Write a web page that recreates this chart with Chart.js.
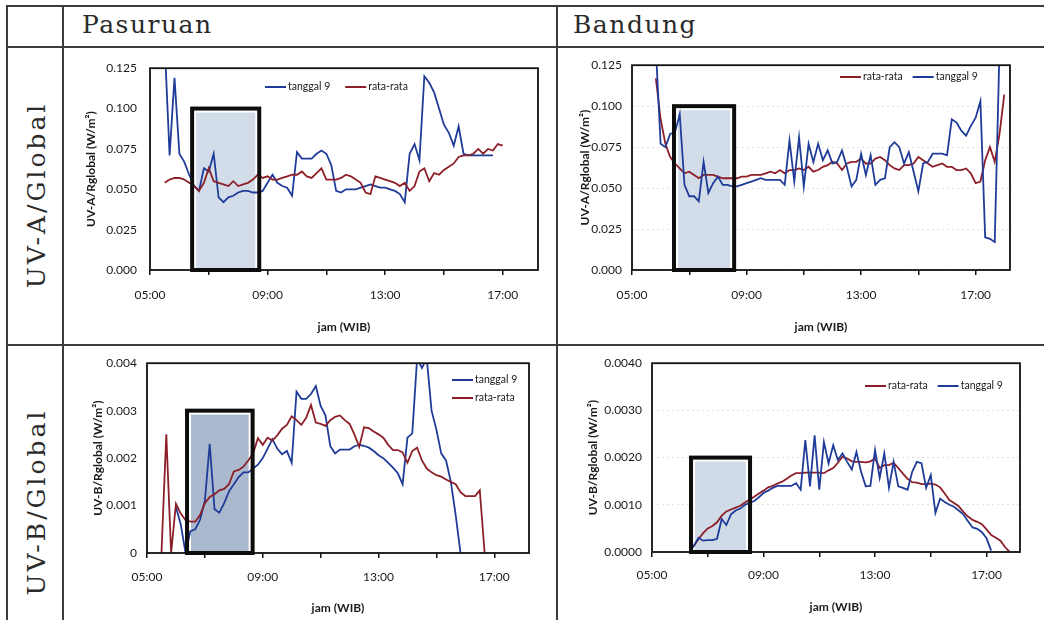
<!DOCTYPE html>
<html>
<head>
<meta charset="utf-8">
<script src="https://cdn.jsdelivr.net/npm/chart.js@4.4.1/dist/chart.umd.min.js"></script>
<style>
  body { margin: 0; background: #fff; }
  #page { position: relative; width: 1044px; height: 620px; overflow: hidden; font-family: "DejaVu Serif", serif; color: #2a2a2a; }
  .rule { position: absolute; background: #3c3c3c; }
  .head { position: absolute; top: 10px; font-size: 25px; letter-spacing: 1.5px; line-height: 30px; }
  .side { position: absolute; left: 36px; font-size: 25px; letter-spacing: 3px; white-space: nowrap; transform: translate(-50%, -50%) rotate(-90deg); }
  canvas { position: absolute; }
</style>
</head>
<body>
<div id="page">
  <div class="rule" style="left:6px;top:5px;width:1038px;height:2px"></div>
  <div class="rule" style="left:6px;top:46px;width:1038px;height:2px"></div>
  <div class="rule" style="left:6px;top:344px;width:1038px;height:2px"></div>
  <div class="rule" style="left:6px;top:5px;width:2px;height:615px"></div>
  <div class="rule" style="left:62px;top:5px;width:2px;height:615px"></div>
  <div class="rule" style="left:556px;top:5px;width:2px;height:615px"></div>
  <div class="head" style="left:82px">Pasuruan</div>
  <div class="head" style="left:573px">Bandung</div>
  <div class="side" style="top:195px">UV-A/Global</div>
  <div class="side" style="top:502px">UV-B/Global</div>
  <canvas id="pasUva" width="492" height="296" style="left:64px;top:48px"></canvas>
  <canvas id="bdgUva" width="484" height="296" style="left:558px;top:48px"></canvas>
  <canvas id="pasUvb" width="492" height="274" style="left:64px;top:346px"></canvas>
  <canvas id="bdgUvb" width="484" height="274" style="left:558px;top:346px"></canvas>
</div>
<script>
const STEP = 10 / 60; // one reading every 10 minutes

const timeTicks = ["05:00", "07:00", "09:00", "11:00", "13:00", "15:00", "17:00"];
const timeLabels = ["05:00", "09:00", "13:00", "17:00"];
const uvaTicks = [0, 0.025, 0.05, 0.075, 0.1, 0.125];
const uvbTicks = [0, 0.001, 0.002, 0.003, 0.004];

// Pasuruan, UV-A / global
const pasUvaT9Start = "05:30";
const pasUvaT9 = [
  0.140, 0.071, 0.119, 0.072, 0.067, 0.059, 0.052, 0.049, 0.063, 0.061,
  0.072, 0.045, 0.042, 0.045, 0.046, 0.048, 0.049, 0.049, 0.048, 0.048,
  0.049, 0.054, 0.059, 0.054, 0.052, 0.051, 0.046, 0.073, 0.069, 0.069,
  0.069, 0.072, 0.074, 0.072, 0.065, 0.049, 0.048, 0.050, 0.050, 0.050,
  0.051, 0.052, 0.053, 0.052, 0.051, 0.051, 0.050, 0.049, 0.047, 0.042,
  0.072, 0.078, 0.068, 0.120, 0.116, 0.110, 0.100, 0.090, 0.085, 0.077,
  0.089, 0.072, 0.071, 0.071, 0.071, 0.071, 0.071, 0.071,
];
const pasUvaAvgStart = "05:30";
const pasUvaAvg = [
  0.054, 0.056, 0.057, 0.057, 0.056, 0.054, 0.052, 0.049, 0.054, 0.063,
  0.055, 0.054, 0.053, 0.052, 0.055, 0.052, 0.053, 0.054, 0.056, 0.059,
  0.057, 0.058, 0.056, 0.056, 0.057, 0.058, 0.059, 0.059, 0.061, 0.058,
  0.057, 0.060, 0.063, 0.056, 0.056, 0.056, 0.057, 0.059, 0.058, 0.056,
  0.054, 0.048, 0.047, 0.058, 0.057, 0.056, 0.055, 0.054, 0.052, 0.054,
  0.049, 0.052, 0.061, 0.063, 0.055, 0.060, 0.059, 0.062, 0.064, 0.066,
  0.070, 0.071, 0.071, 0.072, 0.075, 0.072, 0.075, 0.074, 0.078, 0.077,
];
const pasUvaBox = ["06:26", "08:43", 0.1];

// Bandung, UV-A / global
const bdgUvaAvgStart = "05:50";
const bdgUvaAvg = [
  0.117, 0.092, 0.077, 0.069, 0.065, 0.062, 0.059, 0.060, 0.058, 0.056,
  0.058, 0.058, 0.058, 0.057, 0.056, 0.056, 0.056, 0.056, 0.057, 0.057,
  0.058, 0.058, 0.058, 0.059, 0.060, 0.059, 0.061, 0.059, 0.061, 0.061,
  0.062, 0.061, 0.063, 0.060, 0.061, 0.063, 0.064, 0.066, 0.065, 0.061,
  0.065, 0.066, 0.066, 0.068, 0.065, 0.065, 0.068, 0.069, 0.067, 0.064,
  0.062, 0.061, 0.064, 0.064, 0.065, 0.069, 0.067, 0.065, 0.063, 0.064,
  0.065, 0.063, 0.063, 0.061, 0.061, 0.062, 0.059, 0.053, 0.054, 0.067,
  0.075, 0.066, 0.083, 0.107,
];
const bdgUvaT9Start = "05:50";
const bdgUvaT9 = [
  0.135, 0.077, 0.075, 0.083, 0.084, 0.095, 0.052, 0.045, 0.045, 0.042,
  0.066, 0.047, 0.053, 0.057, 0.052, 0.052, 0.051, 0.051, 0.052, 0.053,
  0.054, 0.055, 0.056, 0.055, 0.055, 0.055, 0.055, 0.052, 0.079, 0.054,
  0.081, 0.051, 0.077, 0.066, 0.077, 0.067, 0.073, 0.065, 0.066, 0.073,
  0.063, 0.051, 0.055, 0.071, 0.058, 0.070, 0.052, 0.055, 0.056, 0.075,
  0.078, 0.075, 0.065, 0.072, 0.060, 0.048, 0.065, 0.066, 0.071, 0.071,
  0.071, 0.070, 0.092, 0.090, 0.085, 0.082, 0.088, 0.093, 0.103, 0.020,
  0.019, 0.017, 0.135,
];
const bdgUvaBox = ["06:28", "08:34", 0.1];

// Pasuruan, UV-B / global
const pasUvbT9Start = "06:00";
const pasUvbT9 = [
  0.00097, 0.0006, 0, 0.00046, 0.0005, 0.0007, 0.0011, 0.0023, 0.00092, 0.00085,
  0.00105, 0.0013, 0.00145, 0.0016, 0.0017, 0.0017, 0.00178, 0.00186, 0.002, 0.0022,
  0.0024, 0.0022, 0.00208, 0.00215, 0.0019, 0.0034, 0.00325, 0.00325, 0.00335, 0.00352,
  0.0031, 0.0029, 0.00225, 0.0021, 0.00218, 0.00218, 0.00218, 0.00225, 0.00228, 0.00226,
  0.00222, 0.00215, 0.00206, 0.002, 0.0019, 0.0018, 0.00168, 0.00145, 0.00243, 0.00252,
  0.0041, 0.0039, 0.0041, 0.003, 0.0026, 0.0021, 0.00195, 0.0015, 0.0008, 0,
];
const pasUvbAvgStart = "05:30";
const pasUvbAvg = [
  0, 0.0025, 0, 0.00104, 0.00083, 0.00069, 0.00066, 0.00066, 0.0008, 0.00105,
  0.00118, 0.00124, 0.00132, 0.00135, 0.00145, 0.00172, 0.00175, 0.00182, 0.00195, 0.0021,
  0.00242, 0.00228, 0.00243, 0.00237, 0.00248, 0.00262, 0.0027, 0.00288, 0.0028, 0.0027,
  0.00285, 0.00312, 0.00275, 0.00272, 0.00268, 0.0028, 0.00287, 0.0029, 0.0028, 0.00272,
  0.0025, 0.00224, 0.00265, 0.00263, 0.00256, 0.0025, 0.00243, 0.00228, 0.00217, 0.00217,
  0.00212, 0.0019, 0.00215, 0.00222, 0.00195, 0.00178, 0.0017, 0.00164, 0.00161, 0.00155,
  0.0015, 0.00145, 0.00128, 0.0012, 0.0012, 0.0012, 0.00132, 0,
];
const pasUvbBox = ["06:23", "08:39", 0.003];

// Bandung, UV-B / global
const bdgUvbAvgStart = "06:20";
const bdgUvbAvg = [
  0, 0.00013, 0.00027, 0.0004, 0.0005, 0.00055, 0.00063, 0.00077, 0.00086, 0.0009,
  0.00094, 0.00098, 0.00105, 0.00111, 0.00117, 0.00124, 0.0013, 0.00137, 0.0014, 0.00145,
  0.00149, 0.00155, 0.00162, 0.00167, 0.00167, 0.00168, 0.00168, 0.00168, 0.00168, 0.00167,
  0.00173, 0.00178, 0.00189, 0.00202, 0.00198, 0.00192, 0.00191, 0.00191, 0.0019, 0.00192,
  0.00198, 0.00178, 0.00184, 0.00184, 0.00189, 0.00178, 0.00166, 0.00155, 0.00148, 0.00147,
  0.00144, 0.00144, 0.00145, 0.00143, 0.00137, 0.00124, 0.0011, 0.00104, 0.00097, 0.00085,
  0.00075, 0.00068, 0.00064, 0.00059, 0.00048, 0.00036, 0.0003, 0.00024, 0.0001, 0,
];
const bdgUvbT9Start = "06:20";
const bdgUvbT9 = [
  0, 0.00013, 0.0003, 0.00024, 0.00025, 0.00025, 0.00028, 0.0007, 0.00057, 0.0008,
  0.00088, 0.00092, 0.001, 0.00104, 0.00108, 0.00116, 0.00125, 0.0013, 0.00136, 0.0014,
  0.0014, 0.0014, 0.0014, 0.00146, 0.00132, 0.00237, 0.00139, 0.00247, 0.00132, 0.00233,
  0.00188, 0.00226, 0.00195, 0.00209, 0.00191, 0.00175, 0.00212, 0.0017, 0.00139, 0.0014,
  0.00216, 0.00157, 0.00209, 0.00136, 0.00191, 0.00139, 0.00136, 0.00132, 0.0017, 0.00191,
  0.00188, 0.00136, 0.00163, 0.00083, 0.00113, 0.00106, 0.001, 0.00096, 0.00088, 0.0008,
  0.00065, 0.00052, 0.00049, 0.00042, 0.00029, 0.00003,
];
const bdgUvbBox = ["06:24", "08:31", 0.002];

const BLUE = "#1f3c99";
const RED = "#8c1f28";
const INK = "#1a1a1a";

Chart.defaults.font.family = "Lato, 'Liberation Sans', sans-serif";
Chart.defaults.color = INK;

const toHours = (t) => {
  const [h, m] = t.split(":").map(Number);
  return h + m / 60;
};
const toPoints = (start, values) =>
  values.map((v, i) => ({ x: toHours(start) + i * STEP, y: v }));

// shaded period box + plot frame
const shadeBox = {
  id: "shadeBox",
  beforeDatasetsDraw(chart, args, opts) {
    const { ctx, scales } = chart;
    const l = scales.x.getPixelForValue(toHours(opts.range[0]));
    const r = scales.x.getPixelForValue(toHours(opts.range[1]));
    const t = scales.y.getPixelForValue(opts.range[2]);
    const b = scales.y.getPixelForValue(0);
    ctx.save();
    ctx.fillStyle = "#fff";
    ctx.fillRect(l, t, r - l, b - t);
    ctx.fillStyle = opts.fill;
    ctx.fillRect(l + 4, t + 4, r - l - 8, b - t - 6);
    ctx.restore();
  },
  afterDatasetsDraw(chart, args, opts) {
    const { ctx, scales, chartArea: a } = chart;
    const l = scales.x.getPixelForValue(toHours(opts.range[0]));
    const r = scales.x.getPixelForValue(toHours(opts.range[1]));
    const t = scales.y.getPixelForValue(opts.range[2]);
    const b = scales.y.getPixelForValue(0);
    ctx.save();
    ctx.strokeStyle = "#111";
    ctx.lineWidth = 1.8;
    ctx.strokeRect(a.left, a.top, a.right - a.left, a.bottom - a.top);
    ctx.strokeStyle = "#0d0d0d";
    ctx.lineWidth = 4;
    ctx.strokeRect(l, t, r - l, b - t);
    ctx.restore();
  },
};

// Excel-like legend sitting inside the plot
const seriesKey = {
  id: "seriesKey",
  afterDraw(chart, args, opts) {
    const { ctx } = chart;
    let { x, y } = opts;
    ctx.save();
    ctx.font = "10.5px Lato, sans-serif";
    ctx.textBaseline = "middle";
    chart.data.datasets.forEach((ds) => {
      ctx.strokeStyle = ds.borderColor;
      ctx.lineWidth = 2;
      ctx.beginPath();
      ctx.moveTo(x, y);
      ctx.lineTo(x + 21, y);
      ctx.stroke();
      ctx.fillStyle = INK;
      ctx.fillText(ds.label, x + 23, y);
      if (opts.vertical) y += opts.gap;
      else x += 23 + ctx.measureText(ds.label).width + opts.gap;
    });
    ctx.restore();
  },
};

const makeChart = (id, series, f) =>
  new Chart(document.getElementById(id), {
    type: "line",
    data: {
      datasets: series.map((s, i) => ({
        label: s.label,
        data: s.points,
        borderColor: s.color,
        borderWidth: 1.8,
        pointRadius: 0,
        tension: 0,
        order: series.length - i,
      })),
    },
    plugins: [shadeBox, seriesKey],
    options: {
      responsive: false,
      animation: false,
      devicePixelRatio: 1,
      layout: { padding: { left: 0, right: f.right, top: f.top, bottom: 0 } },
      plugins: {
        legend: { display: false },
        tooltip: { enabled: false },
        shadeBox: { range: f.box, fill: f.fill },
        seriesKey: f.key,
      },
      scales: {
        x: {
          type: "linear",
          min: 5,
          max: 18.2,
          afterBuildTicks: (s) => {
            s.ticks = timeTicks.map((t) => ({ value: toHours(t) }));
          },
          afterFit: (s) => {
            s.height = f.xHeight;
          },
          ticks: {
            autoSkip: false,
            maxRotation: 0,
            padding: f.xPad,
            font: { size: 12 },
            callback: (v) => {
              const label = timeTicks.find((t) => toHours(t) === v);
              return timeLabels.includes(label) ? label : "";
            },
          },
          grid: { drawOnChartArea: false, drawTicks: true, tickLength: 5, color: "#111", lineWidth: 1.5 },
          border: { display: false },
          title: {
            display: true,
            text: "jam (WIB)",
            font: { size: 12, weight: "bold" },
            padding: { top: 0, bottom: f.xTitlePad },
          },
        },
        y: {
          min: 0,
          max: f.yTicks[f.yTicks.length - 1],
          afterBuildTicks: (s) => {
            s.ticks = f.yTicks.map((v) => ({ value: v }));
          },
          afterFit: (s) => {
            s.width = f.yWidth;
          },
          ticks: { padding: f.yPad, font: { size: 12 }, callback: f.yFormat },
          grid: {
            display: f.grid,
            drawTicks: false,
            color: "#e3e3e3",
            lineWidth: 1,
          },
          border: { display: false, dash: [2, 3] },
          title: {
            display: true,
            text: f.yTitle,
            font: { size: 12, weight: "bold" },
            padding: { top: f.yTitlePad, bottom: 0 },
          },
        },
      },
    },
  });

const t9 = (start, values) => ({ label: "tanggal 9", color: BLUE, points: toPoints(start, values) });
const avg = (start, values) => ({ label: "rata-rata", color: RED, points: toPoints(start, values) });

makeChart("pasUva", [t9(pasUvaT9Start, pasUvaT9), avg(pasUvaAvgStart, pasUvaAvg)], {
  right: 18, top: 17, yWidth: 86, xHeight: 74, yPad: 13, yTitlePad: 20, xPad: 13, xTitlePad: 10,
  grid: false, yTicks: uvaTicks, yFormat: (v) => v.toFixed(3), yTitle: "UV-A/Rglobal (W/m²)",
  box: pasUvaBox, fill: "#d3dde9", key: { x: 201, y: 39, gap: 15 },
});

makeChart("bdgUva", [avg(bdgUvaAvgStart, bdgUvaAvg), t9(bdgUvaT9Start, bdgUvaT9)], {
  right: 32, top: 17, yWidth: 74, xHeight: 74, yPad: 10, yTitlePad: 20, xPad: 13, xTitlePad: 10,
  grid: true, yTicks: uvaTicks, yFormat: (v) => v.toFixed(3), yTitle: "UV-A/Rglobal (W/m²)",
  box: bdgUvaBox, fill: "#d3dde9", key: { x: 282, y: 29, gap: 10 },
});

makeChart("pasUvb", [t9(pasUvbT9Start, pasUvbT9), avg(pasUvbAvgStart, pasUvbAvg)], {
  right: 27, top: 15, yWidth: 83, xHeight: 67, yPad: 10, yTitlePad: 27, xPad: 12, xTitlePad: 5,
  grid: false, yTicks: uvbTicks, yFormat: (v) => (v === 0 ? "0" : v.toFixed(3)), yTitle: "UV-B/Rglobal (W/m²)",
  box: pasUvbBox, fill: "#aab9cd", key: { x: 388, y: 34, gap: 18, vertical: true },
});

makeChart("bdgUvb", [avg(bdgUvbAvgStart, bdgUvbAvg), t9(bdgUvbT9Start, bdgUvbT9)], {
  right: 22, top: 14, yWidth: 94, xHeight: 68, yPad: 10, yTitlePad: 28, xPad: 11, xTitlePad: 6,
  grid: true, yTicks: uvbTicks, yFormat: (v) => v.toFixed(4), yTitle: "UV-B/Rglobal (W/m²)",
  box: bdgUvbBox, fill: "#d0dbe8", key: { x: 307, y: 40, gap: 10 },
});
</script>
</body>
</html>
